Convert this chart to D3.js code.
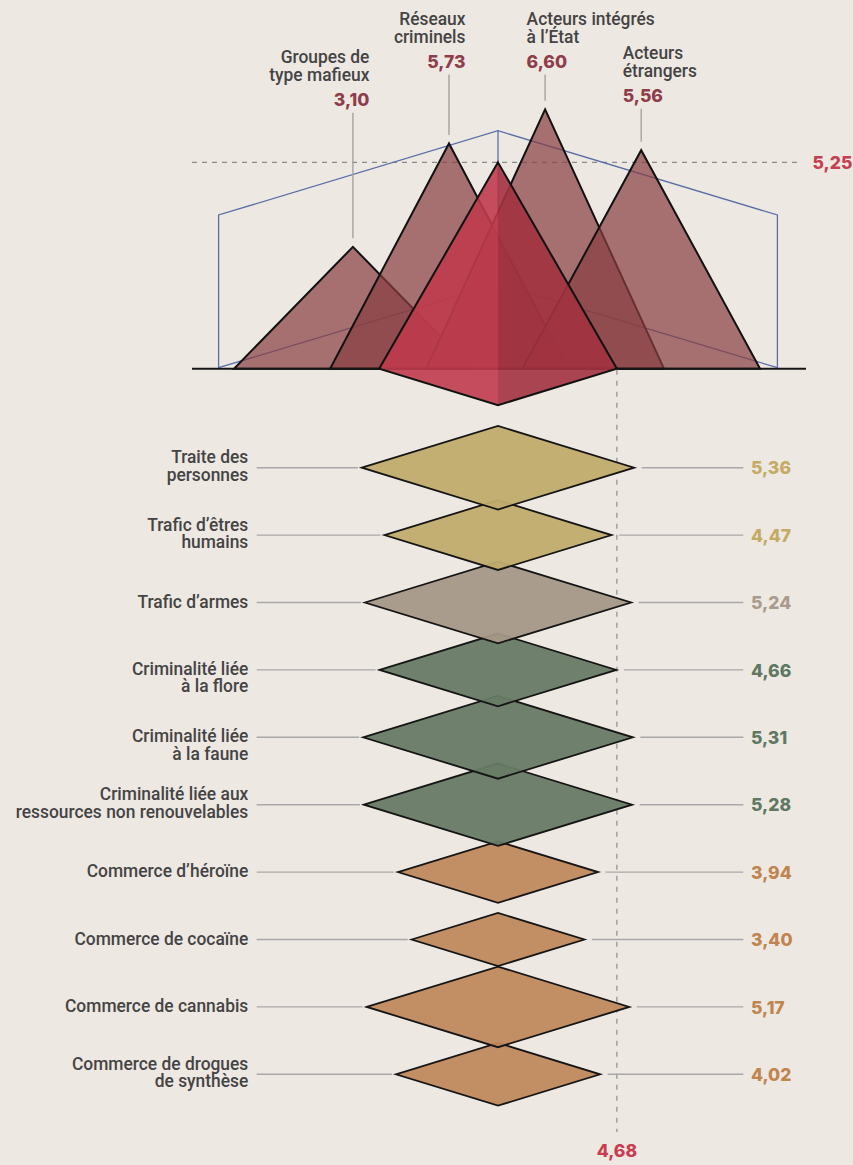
<!DOCTYPE html>
<html><head><meta charset="utf-8">
<script src="https://cdn.jsdelivr.net/npm/d3@7"></script>
<style>
html,body{margin:0;padding:0;background:#EEE8E3;}
svg{display:block;}
</style></head>
<body>
<script>
// ---------- DATA ----------
const actors = ["Groupes de type mafieux", "Réseaux criminels", "Acteurs intégrés à l’État", "Acteurs étrangers"];
const actorLabelLines = [["Groupes de", "type mafieux"], ["Réseaux", "criminels"], ["Acteurs intégrés", "à l’État"], ["Acteurs", "étrangers"]];
const actorValues = [3.10, 5.73, 6.60, 5.56];
const actorAverage = 5.25;

const markets = ["Traite des personnes", "Trafic d’êtres humains", "Trafic d’armes",
  "Criminalité liée à la flore", "Criminalité liée à la faune",
  "Criminalité liée aux ressources non renouvelables", "Commerce d’héroïne",
  "Commerce de cocaïne", "Commerce de cannabis", "Commerce de drogues de synthèse"];
const marketLabelLines = [["Traite des", "personnes"], ["Trafic d’êtres", "humains"], ["Trafic d’armes"],
  ["Criminalité liée", "à la flore"], ["Criminalité liée", "à la faune"],
  ["Criminalité liée aux", "ressources non renouvelables"], ["Commerce d’héroïne"],
  ["Commerce de cocaïne"], ["Commerce de cannabis"], ["Commerce de drogues", "de synthèse"]];
const marketValues = [5.36, 4.47, 5.24, 4.66, 5.31, 5.28, 3.94, 3.40, 5.17, 4.02];
const marketGroups = ["humains", "humains", "armes", "environnement", "environnement", "environnement",
  "drogues", "drogues", "drogues", "drogues"];
const marketAverage = 4.68;

// ---------- STYLE / LAYOUT ----------
const W = 853, H = 1165;
const groupFill = {humains: "#C1AC6D", armes: "#A59887", environnement: "#677B66", drogues: "#BF895C"};
const groupText = {humains: "#C4AB63", armes: "#A89B8B", environnement: "#5F7862", drogues: "#C0844F"};
const labelFont = "Roboto, 'Liberation Sans', sans-serif";
const valueFont = "Inter, 'Open Sans', sans-serif";
const cx = 498;
const baseY = 368.7;
const actorLabelLayout = [
  {anchor: "end", y0: 63.3}, {anchor: "end", y0: 25}, {anchor: "start", y0: 25}, {anchor: "start", y0: 59.3}
];
const marketLabelShift = [0, 0, 0, 9.2, 9.2, 0, 0, 0, 0, 0];
const lineGap = 17.6;

const fmt = v => d3.format(".2f")(v).replace(".", ",");

const svg = d3.select("body").append("svg").attr("width", W).attr("height", H);
svg.append("rect").attr("width", W).attr("height", H).attr("fill", "#EEE8E3");

// scales
const half = d3.scaleLinear().domain([0, 10]).range([0, 254]);
const vRatio = 0.307;
const y = d3.scaleLinear().domain([0, 10]).range([baseY, baseY - 393]);
const xActor = d3.scalePoint().domain(actors).range([352.9, 641.2]);
const yRow = d3.scalePoint().domain(markets).range([467.7, 1074.3]);

function multiLabel(x, y0, lines, anchor) {
  const t = svg.append("text").attr("class", "lbl").attr("data-x", x).attr("data-y", y0)
    .attr("text-anchor", anchor).attr("font-family", labelFont).attr("font-weight", 500)
    .attr("font-size", 19).attr("fill", "#444");
  lines.forEach((s, j) => t.append("tspan").attr("x", 0).attr("dy", j === 0 ? 0 : lineGap).text(s));
  return t;
}
function valueLabel(x, yy, txt, color, anchor) {
  return svg.append("text").attr("class", "val").attr("data-x", x).attr("data-y", yy)
    .attr("text-anchor", anchor || "start").attr("font-family", valueFont).attr("font-weight", 800)
    .attr("font-size", 17.5).attr("fill", color).text(txt);
}

// ---------- TOP PART ----------
svg.append("line").attr("x1", 192).attr("x2", 802)
  .attr("y1", y(actorAverage)).attr("y2", y(actorAverage))
  .attr("stroke", "#8a8a8a").attr("stroke-width", 1.2).attr("stroke-dasharray", "5,5");
valueLabel(812.5, y(actorAverage) + 6.5, fmt(actorAverage), "#C63E4F");

// decorative box
const bx = half(11), bTop = 130.7, bSide = 215, bBot = 367.7, bMid = 283.7;
const boxG = svg.append("g").attr("fill", "none").attr("stroke", "#5A6EA6").attr("stroke-width", 1.3);
boxG.append("path").attr("d", d3.line()([[cx - bx, bBot], [cx - bx, bSide], [cx, bTop], [cx + bx, bSide], [cx + bx, bBot]]));
boxG.append("path").attr("d", d3.line()([[cx - bx, bBot], [cx, bMid], [cx + bx, bBot]]));
boxG.append("path").attr("d", d3.line()([[cx, bTop], [cx, bMid]]));

// actor peaks
const tw = half(marketAverage);
svg.append("g").selectAll("path").data(actors).join("path")
  .attr("d", (d, i) => d3.line()([[xActor(d) - tw, baseY], [xActor(d), y(actorValues[i])], [xActor(d) + tw, baseY]]) + "Z")
  .attr("fill", "#873D40").attr("fill-opacity", 0.7)
  .attr("stroke", "#111").attr("stroke-width", 2).attr("stroke-linejoin", "miter");

svg.append("line").attr("x1", 192).attr("x2", 806).attr("y1", baseY).attr("y2", baseY)
  .attr("stroke", "#151515").attr("stroke-width", 2);

// average pyramid
const apex = y(actorAverage), vh = half(marketAverage) * vRatio;
svg.append("path").attr("d", d3.line()([[cx, apex], [cx - tw, baseY], [cx, baseY + vh]]) + "Z")
  .attr("fill", "#BF3B4D").attr("fill-opacity", 0.9);
svg.append("path").attr("d", d3.line()([[cx, apex], [cx + tw, baseY], [cx, baseY + vh]]) + "Z")
  .attr("fill", "#A2323F").attr("fill-opacity", 0.9);
svg.append("path").attr("d", d3.line()([[cx, apex], [cx + tw, baseY], [cx, baseY + vh], [cx - tw, baseY]]) + "Z")
  .attr("fill", "none").attr("stroke", "#111").attr("stroke-width", 2).attr("stroke-linejoin", "miter");

// actor labels
actors.forEach((a, i) => {
  const L = actorLabelLayout[i];
  const ax = xActor(a) + (L.anchor === "end" ? 16.5 : -18.5);
  const lines = actorLabelLines[i];
  multiLabel(ax, L.y0, lines, L.anchor);
  const vy = L.y0 + (lines.length - 1) * lineGap + 25.3;
  valueLabel(ax, vy, fmt(actorValues[i]), "#8E3E4A", L.anchor);
  svg.append("line").attr("x1", xActor(a)).attr("x2", xActor(a))
    .attr("y1", vy + 6.5).attr("y2", y(actorValues[i]) - 8.5)
    .attr("stroke", "#a3a3a3").attr("stroke-width", 1.4);
});

// ---------- MARKETS ----------
svg.append("line").attr("x1", cx + half(marketAverage)).attr("x2", cx + half(marketAverage))
  .attr("y1", baseY + 1).attr("y2", 1132)
  .attr("stroke", "#9a9a9a").attr("stroke-width", 1.4).attr("stroke-dasharray", "5,6");
valueLabel(cx + half(marketAverage), 1157, fmt(marketAverage), "#C63E4F", "middle");

markets.forEach((m, i) => {
  const ry = yRow(m), hw = half(marketValues[i]);
  svg.append("line").attr("x1", 256.7).attr("x2", cx - hw - 4).attr("y1", ry).attr("y2", ry)
    .attr("stroke", "#a8a8a8").attr("stroke-width", 1.4);
  svg.append("line").attr("x1", cx + hw + 7.5).attr("x2", 743.3).attr("y1", ry).attr("y2", ry)
    .attr("stroke", "#a8a8a8").attr("stroke-width", 1.4);
  const lines = marketLabelLines[i];
  const y0 = (lines.length === 1 ? ry + 5 : ry - 4.6) + marketLabelShift[i];
  multiLabel(248.3, y0, lines, "end");
  valueLabel(751, ry + 6.6, fmt(marketValues[i]), groupText[marketGroups[i]]);
});

// diamonds (upper rows drawn on top)
const order = d3.range(markets.length).reverse();
svg.append("g").selectAll("path").data(order).join("path")
  .attr("d", i => {
    const ry = yRow(markets[i]), hw = half(marketValues[i]), hh = hw * vRatio;
    return d3.line()([[cx - hw, ry], [cx, ry - hh], [cx + hw, ry], [cx, ry + hh]]) + "Z";
  })
  .attr("fill", i => groupFill[marketGroups[i]]).attr("fill-opacity", 0.95)
  .attr("stroke", "#151515").attr("stroke-width", 1.8).attr("stroke-linejoin", "miter");

// fit text widths to the reference typography
(function fit() {
  const probe = svg.append("text").attr("font-family", labelFont).attr("font-weight", 500)
    .attr("font-size", 19).text("Commerce de cocaïne");
  const k = 174 / probe.node().getComputedTextLength();
  probe.remove();
  svg.selectAll("text.lbl").each(function () {
    const s = d3.select(this);
    s.attr("transform", `translate(${+s.attr("data-x")},${+s.attr("data-y")}) scale(${k},1)`);
  });
  const probe2 = svg.append("text").attr("font-family", valueFont).attr("font-weight", 800)
    .attr("font-size", 17.5).text("5,36");
  const k2 = 40 / probe2.node().getComputedTextLength();
  probe2.remove();
  svg.selectAll("text.val").each(function () {
    const s = d3.select(this);
    s.attr("transform", `translate(${+s.attr("data-x")},${+s.attr("data-y")}) scale(${k2},1)`);
  });
})();
</script>
</body></html>
